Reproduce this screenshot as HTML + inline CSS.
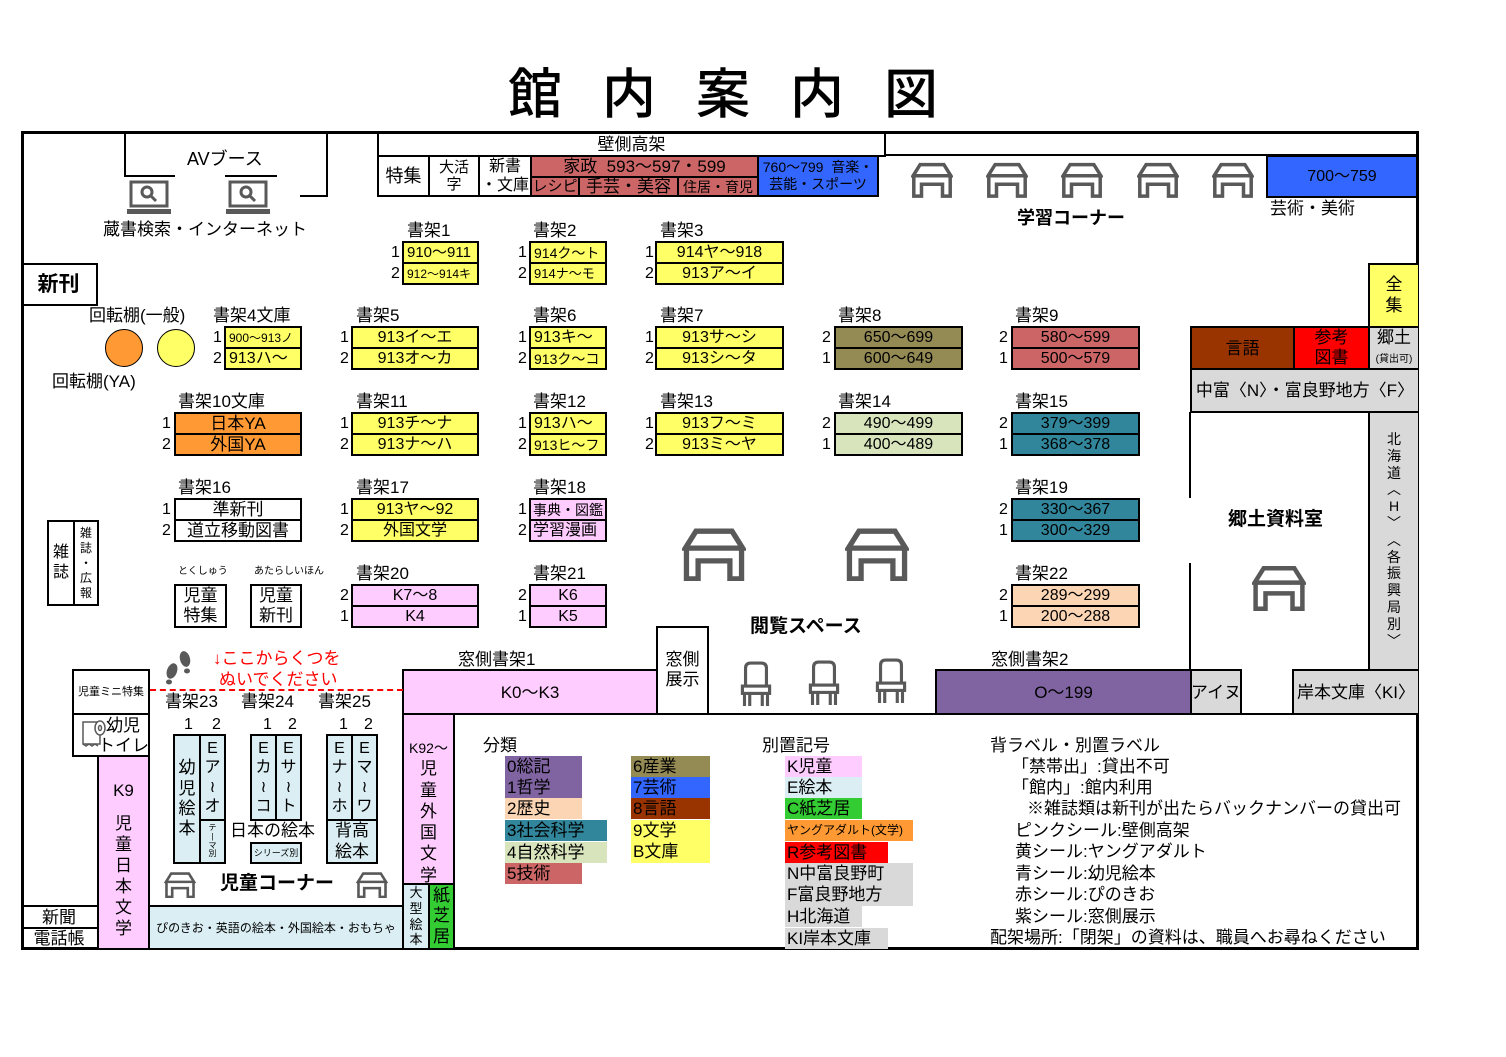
<!DOCTYPE html>
<html><head><meta charset="utf-8">
<style>
html,body{margin:0;padding:0;background:#fff;}
body{width:1506px;height:1057px;position:relative;overflow:hidden;font-family:"Liberation Sans","Noto Sans CJK JP",sans-serif;color:#000;}
.b{position:absolute;border:2px solid #000;box-sizing:border-box;display:flex;align-items:center;justify-content:center;white-space:nowrap;font-size:16px;line-height:1;overflow:hidden;}
.t{position:absolute;white-space:nowrap;font-size:17px;line-height:1;}
.n{position:absolute;font-size:16px;line-height:1;}
.l{position:absolute;background:#000;}
.y{background:#FFFF66}.o{background:#FF9933}.p{background:#FFCCFF}.ol{background:#948A54}
.r{background:#CC6666}.g{background:#D8E4BC}.tl{background:#31869B}.pe{background:#FCD5B4}
.pu{background:#8064A2}.br{background:#993300}.rd{background:#FF0000}.bl{background:#3366FF}
.gr{background:#D9D9D9}.lb{background:#DAEEF3}.gn{background:#33CC33}
.v{flex-direction:column;text-align:center;line-height:1.15;}
.bold{font-weight:bold;}
svg{position:absolute;overflow:visible;}
.leg{position:absolute;font-size:17px;line-height:21px;height:21px;white-space:nowrap;}
.wv{font-family:"DejaVu Sans",sans-serif;}
</style></head><body>
<svg width="0" height="0" style="position:absolute">
<defs>
<symbol id="tbl" viewBox="0 0 60 50"><g fill="none" stroke="#595959" stroke-width="5"><polygon points="13,3 47,3 57,19 3,19"/><path d="M4 19 V48 H15 V31 H45 V48 H56 V19"/></g></symbol>
<symbol id="chr" viewBox="0 0 32 44"><g fill="none" stroke="#595959" stroke-width="3"><path d="M6 24 V7 Q6 2 11 2 H21 Q26 2 26 7 V24"/><rect x="3" y="24" width="26" height="7"/><path d="M5 31 V43 M27 31 V43 M10 31 V43 M22 31 V43"/></g></symbol>
<symbol id="lap" viewBox="0 0 46 36"><rect x="5" y="2" width="36" height="24" fill="#fff" stroke="#595959" stroke-width="3"/><circle cx="21" cy="12" r="5" fill="none" stroke="#595959" stroke-width="3"/><line x1="25" y1="16" x2="30" y2="21" stroke="#595959" stroke-width="3"/><rect x="1" y="29" width="44" height="5" fill="#595959"/></symbol>
</defs></svg>

<div class="t" style="left:508px;top:68px;font-size:54px;letter-spacing:40px;font-weight:500;">館内案内図</div>

<div style="position:absolute;left:21px;top:131px;width:1398px;height:819px;border:3px solid #000;box-sizing:border-box;"></div>

<div class="l" style="left:124px;top:131px;width:2px;height:45px"></div>
<div class="l" style="left:124px;top:175px;width:51px;height:2px"></div>
<div class="l" style="left:225px;top:175px;width:52px;height:2px"></div>
<div class="l" style="left:326px;top:131px;width:2px;height:66px"></div>
<div class="l" style="left:300px;top:195px;width:28px;height:2px"></div>
<div class="t" style="left:187px;top:150px;font-size:18px;">AVブース</div>
<svg style="left:126px;top:180px" width="46" height="36"><use href="#lap"/></svg>
<svg style="left:225px;top:180px" width="46" height="36"><use href="#lap"/></svg>
<div class="t" style="left:103px;top:221px;font-size:17px;">蔵書検索・インターネット</div>

<div class="b" style="left:377px;top:131px;width:509px;height:26px;font-size:17px;">壁側高架</div>
<div class="l" style="left:884px;top:154px;width:535px;height:2px"></div>
<div class="b" style="left:377px;top:155px;width:53px;height:42px;font-size:18px;">特集</div>
<div class="b v" style="left:428px;top:155px;width:52px;height:42px;font-size:15px;">大活<br>字</div>
<div class="b v" style="left:478px;top:155px;width:54px;height:42px;font-size:16px;line-height:1.2">新書<br>・文庫</div>
<div class="b r" style="left:530px;top:155px;width:229px;height:23px;font-size:17px;">家政&nbsp;&nbsp;593～597・599</div>
<div class="b r" style="left:530px;top:176px;width:50px;height:21px;font-size:15px;">レシピ</div>
<div class="b r" style="left:578px;top:176px;width:101px;height:21px;font-size:17px;">手芸・美容</div>
<div class="b r" style="left:677px;top:176px;width:82px;height:21px;font-size:14px;">住居・育児</div>
<div class="b bl v" style="left:757px;top:155px;width:122px;height:42px;font-size:14px;line-height:1.25">760～799&nbsp;&nbsp;音楽・<br>芸能・スポーツ</div>

<svg style="left:911px;top:162px" width="42" height="36"><use href="#tbl"/></svg>
<svg style="left:986px;top:162px" width="42" height="36"><use href="#tbl"/></svg>
<svg style="left:1061px;top:162px" width="42" height="36"><use href="#tbl"/></svg>
<svg style="left:1137px;top:162px" width="42" height="36"><use href="#tbl"/></svg>
<svg style="left:1212px;top:162px" width="42" height="36"><use href="#tbl"/></svg>
<div class="t bold" style="left:1017px;top:209px;font-size:18px;">学習コーナー</div>
<div class="b bl" style="left:1266px;top:155px;width:152px;height:43px;font-size:16px;">700～759</div>
<div class="t" style="left:1270px;top:200px;">芸術・美術</div>

<div class="b bold" style="left:21px;top:263px;width:77px;height:43px;font-size:21px;border-left:none;">新刊</div>

<div class="t" style="left:89px;top:307px;">回転棚(一般)</div>
<div style="position:absolute;left:105px;top:329px;width:38px;height:38px;border-radius:50%;background:#FF9933;border:1.5px solid #000;box-sizing:border-box"></div>
<div style="position:absolute;left:157px;top:329px;width:38px;height:38px;border-radius:50%;background:#FFFF66;border:1.5px solid #000;box-sizing:border-box"></div>
<div class="t" style="left:52px;top:373px;">回転棚(YA)</div>

<div class="t" style="left:407px;top:222px;">書架1</div>
<div class="n" style="left:391px;top:245px;">1</div><div class="n" style="left:391px;top:266px;">2</div>
<div class="b y" style="left:402px;top:241px;width:77px;height:23px;justify-content:flex-start;padding-left:3px;font-size:15px;">910～911</div>
<div class="b y" style="left:402px;top:262px;width:77px;height:23px;justify-content:flex-start;padding-left:3px;font-size:12px;">912～914キ</div>

<div class="t" style="left:533px;top:222px;">書架2</div>
<div class="n" style="left:518px;top:245px;">1</div><div class="n" style="left:518px;top:266px;">2</div>
<div class="b y" style="left:529px;top:241px;width:78px;height:23px;justify-content:flex-start;padding-left:3px;font-size:14px;">914ク～ト</div>
<div class="b y" style="left:529px;top:262px;width:78px;height:23px;justify-content:flex-start;padding-left:3px;font-size:13px;">914ナ～モ</div>

<div class="t" style="left:660px;top:222px;">書架3</div>
<div class="n" style="left:645px;top:245px;">1</div><div class="n" style="left:645px;top:266px;">2</div>
<div class="b y" style="left:655px;top:241px;width:129px;height:23px;">914ヤ～918</div>
<div class="b y" style="left:655px;top:262px;width:129px;height:23px;">913ア～イ</div>

<div class="t" style="left:213px;top:307px;">書架4文庫</div>
<div class="n" style="left:213px;top:330px;">1</div><div class="n" style="left:213px;top:351px;">2</div>
<div class="b y" style="left:224px;top:326px;width:78px;height:23px;justify-content:flex-start;padding-left:3px;font-size:12px;">900～913ノ</div>
<div class="b y" style="left:224px;top:347px;width:78px;height:23px;justify-content:flex-start;padding-left:3px;">913ハ～</div>

<div class="t" style="left:356px;top:307px;">書架5</div>
<div class="n" style="left:340px;top:330px;">1</div><div class="n" style="left:340px;top:351px;">2</div>
<div class="b y" style="left:351px;top:326px;width:128px;height:23px;">913イ～エ</div>
<div class="b y" style="left:351px;top:347px;width:128px;height:23px;">913オ～カ</div>

<div class="t" style="left:533px;top:307px;">書架6</div>
<div class="n" style="left:518px;top:330px;">1</div><div class="n" style="left:518px;top:351px;">2</div>
<div class="b y" style="left:529px;top:326px;width:78px;height:23px;justify-content:flex-start;padding-left:3px;">913キ～</div>
<div class="b y" style="left:529px;top:347px;width:78px;height:23px;justify-content:flex-start;padding-left:3px;font-size:14px;">913ク～コ</div>

<div class="t" style="left:660px;top:307px;">書架7</div>
<div class="n" style="left:645px;top:330px;">1</div><div class="n" style="left:645px;top:351px;">2</div>
<div class="b y" style="left:655px;top:326px;width:129px;height:23px;">913サ～シ</div>
<div class="b y" style="left:655px;top:347px;width:129px;height:23px;">913シ～タ</div>

<div class="t" style="left:838px;top:307px;">書架8</div>
<div class="n" style="left:822px;top:330px;">2</div><div class="n" style="left:822px;top:351px;">1</div>
<div class="b ol" style="left:834px;top:326px;width:129px;height:23px;">650～699</div>
<div class="b ol" style="left:834px;top:347px;width:129px;height:23px;">600～649</div>

<div class="t" style="left:1015px;top:307px;">書架9</div>
<div class="n" style="left:999px;top:330px;">2</div><div class="n" style="left:999px;top:351px;">1</div>
<div class="b r" style="left:1011px;top:326px;width:129px;height:23px;">580～599</div>
<div class="b r" style="left:1011px;top:347px;width:129px;height:23px;">500～579</div>

<div class="t" style="left:178px;top:393px;">書架10文庫</div>
<div class="n" style="left:162px;top:416px;">1</div><div class="n" style="left:162px;top:437px;">2</div>
<div class="b o" style="left:174px;top:412px;width:128px;height:23px;font-size:17px;">日本YA</div>
<div class="b o" style="left:174px;top:433px;width:128px;height:23px;font-size:17px;">外国YA</div>

<div class="t" style="left:356px;top:393px;">書架11</div>
<div class="n" style="left:340px;top:416px;">1</div><div class="n" style="left:340px;top:437px;">2</div>
<div class="b y" style="left:351px;top:412px;width:128px;height:23px;">913チ～ナ</div>
<div class="b y" style="left:351px;top:433px;width:128px;height:23px;">913ナ～ハ</div>

<div class="t" style="left:533px;top:393px;">書架12</div>
<div class="n" style="left:518px;top:416px;">1</div><div class="n" style="left:518px;top:437px;">2</div>
<div class="b y" style="left:529px;top:412px;width:78px;height:23px;justify-content:flex-start;padding-left:3px;">913ハ～</div>
<div class="b y" style="left:529px;top:433px;width:78px;height:23px;justify-content:flex-start;padding-left:3px;font-size:14px;">913ヒ～フ</div>

<div class="t" style="left:660px;top:393px;">書架13</div>
<div class="n" style="left:645px;top:416px;">1</div><div class="n" style="left:645px;top:437px;">2</div>
<div class="b y" style="left:655px;top:412px;width:129px;height:23px;">913フ～ミ</div>
<div class="b y" style="left:655px;top:433px;width:129px;height:23px;">913ミ～ヤ</div>

<div class="t" style="left:838px;top:393px;">書架14</div>
<div class="n" style="left:822px;top:416px;">2</div><div class="n" style="left:822px;top:437px;">1</div>
<div class="b g" style="left:834px;top:412px;width:129px;height:23px;">490～499</div>
<div class="b g" style="left:834px;top:433px;width:129px;height:23px;">400～489</div>

<div class="t" style="left:1015px;top:393px;">書架15</div>
<div class="n" style="left:999px;top:416px;">2</div><div class="n" style="left:999px;top:437px;">1</div>
<div class="b tl" style="left:1011px;top:412px;width:129px;height:23px;">379～399</div>
<div class="b tl" style="left:1011px;top:433px;width:129px;height:23px;">368～378</div>

<div class="t" style="left:178px;top:479px;">書架16</div>
<div class="n" style="left:162px;top:502px;">1</div><div class="n" style="left:162px;top:523px;">2</div>
<div class="b" style="left:174px;top:498px;width:128px;height:23px;font-size:17px;">準新刊</div>
<div class="b" style="left:174px;top:519px;width:128px;height:23px;font-size:17px;">道立移動図書</div>

<div class="t" style="left:356px;top:479px;">書架17</div>
<div class="n" style="left:340px;top:502px;">1</div><div class="n" style="left:340px;top:523px;">2</div>
<div class="b y" style="left:351px;top:498px;width:128px;height:23px;">913ヤ～92</div>
<div class="b y" style="left:351px;top:519px;width:128px;height:23px;">外国文学</div>

<div class="t" style="left:533px;top:479px;">書架18</div>
<div class="n" style="left:518px;top:502px;">1</div><div class="n" style="left:518px;top:523px;">2</div>
<div class="b p" style="left:529px;top:498px;width:78px;height:23px;justify-content:flex-start;padding-left:2px;font-size:14px;">事典・図鑑</div>
<div class="b p" style="left:529px;top:519px;width:78px;height:23px;justify-content:flex-start;padding-left:2px;">学習漫画</div>

<div class="t" style="left:1015px;top:479px;">書架19</div>
<div class="n" style="left:999px;top:502px;">2</div><div class="n" style="left:999px;top:523px;">1</div>
<div class="b tl" style="left:1011px;top:498px;width:129px;height:23px;">330～367</div>
<div class="b tl" style="left:1011px;top:519px;width:129px;height:23px;">300～329</div>

<div class="t" style="left:178px;top:567px;font-size:10px;">とくしゅう</div>
<div class="b v" style="left:174px;top:584px;width:53px;height:44px;font-size:17px;line-height:1.2;">児童<br>特集</div>
<div class="t" style="left:254px;top:567px;font-size:10px;">あたらしいほん</div>
<div class="b v" style="left:250px;top:584px;width:52px;height:44px;font-size:17px;line-height:1.2;">児童<br>新刊</div>

<div class="t" style="left:356px;top:565px;">書架20</div>
<div class="n" style="left:340px;top:588px;">2</div><div class="n" style="left:340px;top:609px;">1</div>
<div class="b p" style="left:351px;top:584px;width:128px;height:23px;">K7～8</div>
<div class="b p" style="left:351px;top:605px;width:128px;height:23px;">K4</div>

<div class="t" style="left:533px;top:565px;">書架21</div>
<div class="n" style="left:518px;top:588px;">2</div><div class="n" style="left:518px;top:609px;">1</div>
<div class="b p" style="left:529px;top:584px;width:78px;height:23px;">K6</div>
<div class="b p" style="left:529px;top:605px;width:78px;height:23px;">K5</div>

<div class="t" style="left:1015px;top:565px;">書架22</div>
<div class="n" style="left:999px;top:588px;">2</div><div class="n" style="left:999px;top:609px;">1</div>
<div class="b pe" style="left:1011px;top:584px;width:129px;height:23px;">289～299</div>
<div class="b pe" style="left:1011px;top:605px;width:129px;height:23px;">200～288</div>

<div class="b v" style="left:47px;top:520px;width:28px;height:86px;font-size:16px;line-height:1.25;">雑<br>誌</div>
<div class="b v" style="left:73px;top:520px;width:26px;height:86px;font-size:12px;line-height:1.25;">雑<br>誌<br>・<br>広<br>報</div>

<svg style="left:682px;top:528px" width="64" height="53"><use href="#tbl"/></svg>
<svg style="left:845px;top:528px" width="64" height="53"><use href="#tbl"/></svg>
<div class="t bold" style="left:750px;top:617px;font-size:19px;">閲覧スペース</div>

<div class="b y v" style="left:1368px;top:263px;width:50px;height:65px;font-size:17px;line-height:1.2;border-right:none;">全<br>集</div>
<div class="b br" style="left:1190px;top:326px;width:105px;height:44px;font-size:17px;">言語</div>
<div class="b rd v" style="left:1293px;top:326px;width:77px;height:44px;font-size:17px;line-height:1.15;color:#000;">参考<br>図書</div>
<div class="b gr v" style="left:1368px;top:326px;width:50px;height:44px;font-size:17px;line-height:1.1;border-right:none;"><div>郷土<br><span style="font-size:10px">(貸出可)</span></div></div>
<div class="b gr" style="left:1190px;top:368px;width:228px;height:45px;font-size:17px;border-right:none;">中富〈N〉・富良野地方〈F〉</div>
<div class="b gr v" style="left:1368px;top:411px;width:50px;height:260px;font-size:14px;line-height:1.2;border-right:none;justify-content:flex-start;padding-top:18px;">北<br>海<br>道<br>︿<br>H<br>﹀<br>︿<br>各<br>振<br>興<br>局<br>別<br>﹀</div>
<div class="l" style="left:1189px;top:412px;width:2px;height:86px"></div>
<div class="l" style="left:1189px;top:563px;width:2px;height:108px"></div>
<div class="t bold" style="left:1228px;top:510px;font-size:19px;">郷土資料室</div>
<svg style="left:1252px;top:565px" width="54" height="46"><use href="#tbl"/></svg>

<div class="t" style="left:458px;top:651px;">窓側書架1</div>
<div class="b p" style="left:402px;top:669px;width:256px;height:46px;font-size:17px;">K0～K3</div>
<div class="b v" style="left:656px;top:626px;width:53px;height:89px;font-size:17px;line-height:1.2;justify-content:flex-start;padding-top:22px;">窓側<br>展示</div>
<svg style="left:739px;top:661px" width="34" height="46"><use href="#chr"/></svg>
<svg style="left:807px;top:660px" width="34" height="46"><use href="#chr"/></svg>
<svg style="left:874px;top:658px" width="34" height="46"><use href="#chr"/></svg>
<div class="t" style="left:991px;top:651px;">窓側書架2</div>
<div class="b pu" style="left:935px;top:669px;width:257px;height:46px;font-size:17px;">O～199</div>
<div class="b gr" style="left:1190px;top:669px;width:52px;height:46px;font-size:17px;">アイヌ</div>
<div class="b gr" style="left:1292px;top:669px;width:126px;height:46px;font-size:17px;border-right:none;">岸本文庫〈KI〉</div>
<div class="l" style="left:403px;top:713px;width:1016px;height:2px"></div>

<div class="b p v" style="left:402px;top:713px;width:53px;height:172px;font-size:17px;line-height:1.25;justify-content:flex-start;padding-top:22px;"><div><span style="font-size:14px">K92～</span><br>児<br>童<br>外<br>国<br>文<br>学</div></div>
<div class="b lb v" style="left:402px;top:883px;width:28px;height:67px;font-size:13px;line-height:1.2;">大<br>型<br>絵<br>本</div>
<div class="b gn v" style="left:428px;top:883px;width:27px;height:67px;font-size:17px;line-height:1.2;">紙<br>芝<br>居</div>

<div class="b" style="left:72px;top:669px;width:78px;height:46px;font-size:11px;">児童ミニ特集</div>
<div class="b" style="left:72px;top:713px;width:78px;height:44px;"></div>
<svg style="left:78px;top:716px" width="30" height="36" viewBox="0 0 30 36"><g fill="none" stroke="#595959" stroke-width="1.5"><path d="M5 6 H22 V28 H5 Z"/><ellipse cx="22" cy="12" rx="5" ry="7" fill="#fff"/><ellipse cx="22" cy="12" rx="1.5" ry="2.5"/><path d="M5 28 l3 2 l3 -2 l3 2 l3 -2 l3 2"/></g></svg>
<div class="t" style="left:106px;top:716px;font-size:17px;line-height:1.2;">幼児<br><span style="margin-left:-8px">トイレ</span></div>
<div class="b p v" style="left:97px;top:755px;width:53px;height:195px;font-size:17px;line-height:21px;justify-content:flex-start;padding-top:23px;"><div>K9<div style="height:12px"></div>児<br>童<br>日<br>本<br>文<br>学</div></div>
<div class="b" style="left:21px;top:905px;width:78px;height:24px;font-size:17px;border-left:none;">新聞</div>
<div class="b" style="left:21px;top:927px;width:78px;height:23px;font-size:17px;border-left:none;">電話帳</div>
<div class="b lb" style="left:148px;top:905px;width:256px;height:45px;font-size:12px;">ぴのきお・英語の絵本・外国絵本・おもちゃ</div>

<div style="position:absolute;left:150px;top:689px;width:253px;border-top:2px dashed #FF0000;"></div>
<svg style="left:160px;top:647px" width="38" height="38" viewBox="0 0 38 38"><g fill="#595959"><ellipse cx="12" cy="24" rx="5" ry="8" transform="rotate(20 12 24)"/><ellipse cx="9" cy="35" rx="3" ry="2.5"/><ellipse cx="25" cy="12" rx="5" ry="8" transform="rotate(-15 25 12)"/><ellipse cx="27" cy="24" rx="3" ry="2.5"/></g></svg>
<div class="t" style="left:213px;top:650px;color:#FF0000;font-size:17px;">↓ここからくつを</div>
<div class="t" style="left:219px;top:671px;color:#FF0000;font-size:17px;">ぬいでください</div>

<div class="t" style="left:165px;top:693px;">書架23</div>
<div class="t" style="left:241px;top:693px;">書架24</div>
<div class="t" style="left:318px;top:693px;">書架25</div>
<div class="n" style="left:184px;top:717px;">1</div><div class="n" style="left:212px;top:717px;">2</div>
<div class="n" style="left:263px;top:717px;">1</div><div class="n" style="left:288px;top:717px;">2</div>
<div class="n" style="left:339px;top:717px;">1</div><div class="n" style="left:364px;top:717px;">2</div>

<div class="b lb v" style="left:173px;top:734px;width:28px;height:130px;font-size:17px;line-height:1.2;">幼<br>児<br>絵<br>本</div>
<div class="b lb v" style="left:199px;top:734px;width:27px;height:87px;font-size:16px;line-height:1.2;"><div>E<br>ア<br><span class="wv">≀</span><br>オ</div></div>
<div class="b lb v" style="left:199px;top:819px;width:27px;height:45px;font-size:8px;line-height:1.1;">テ<br>|<br>マ<br>別</div>
<div class="b lb v" style="left:250px;top:734px;width:27px;height:87px;font-size:16px;line-height:1.2;"><div>E<br>カ<br><span class="wv">≀</span><br>コ</div></div>
<div class="b lb v" style="left:275px;top:734px;width:27px;height:87px;font-size:16px;line-height:1.2;"><div>E<br>サ<br><span class="wv">≀</span><br>ト</div></div>
<div class="t" style="left:230px;top:822px;font-size:17px;">日本の絵本</div>
<div class="b lb" style="left:250px;top:842px;width:52px;height:22px;font-size:9px;">シリーズ別</div>
<div class="b lb v" style="left:326px;top:734px;width:27px;height:87px;font-size:16px;line-height:1.2;"><div>E<br>ナ<br><span class="wv">≀</span><br>ホ</div></div>
<div class="b lb v" style="left:351px;top:734px;width:27px;height:87px;font-size:16px;line-height:1.2;"><div>E<br>マ<br><span class="wv">≀</span><br>ワ</div></div>
<div class="b lb v" style="left:326px;top:819px;width:52px;height:45px;font-size:17px;line-height:1.2;">背高<br>絵本</div>
<svg style="left:164px;top:872px" width="32" height="26"><use href="#tbl"/></svg>
<svg style="left:356px;top:872px" width="32" height="26"><use href="#tbl"/></svg>
<div class="t bold" style="left:220px;top:874px;font-size:19px;">児童コーナー</div>

<div class="t" style="left:483px;top:737px;">分類</div>
<div class="leg pu" style="left:505px;top:756px;width:75px;height:42px;line-height:21px;padding-left:2px;">0総記<br>1哲学</div>
<div class="leg pe" style="left:505px;top:798px;width:75px;padding-left:2px;">2歴史</div>
<div class="leg tl" style="left:505px;top:820px;width:100px;padding-left:2px;">3社会科学</div>
<div class="leg g" style="left:505px;top:842px;width:100px;padding-left:2px;">4自然科学</div>
<div class="leg r" style="left:505px;top:863px;width:75px;padding-left:2px;">5技術</div>
<div class="leg ol" style="left:631px;top:756px;width:77px;padding-left:2px;">6産業</div>
<div class="leg bl" style="left:631px;top:777px;width:77px;padding-left:2px;">7芸術</div>
<div class="leg br" style="left:631px;top:798px;width:77px;padding-left:2px;">8言語</div>
<div class="leg y" style="left:631px;top:820px;width:77px;height:43px;padding-left:2px;">9文学<br>B文庫</div>

<div class="t" style="left:762px;top:737px;">別置記号</div>
<div class="leg p" style="left:785px;top:756px;width:75px;padding-left:2px;">K児童</div>
<div class="leg lb" style="left:785px;top:777px;width:75px;padding-left:2px;">E絵本</div>
<div class="leg gn" style="left:785px;top:798px;width:75px;padding-left:2px;">C紙芝居</div>
<div class="leg o" style="left:785px;top:820px;width:126px;padding-left:2px;font-size:12px;">ヤングアダルト(文学)</div>
<div class="leg rd" style="left:785px;top:842px;width:101px;padding-left:2px;">R参考図書</div>
<div class="leg gr" style="left:785px;top:863px;width:126px;height:43px;padding-left:2px;">N中富良野町<br>F富良野地方</div>
<div class="leg gr" style="left:785px;top:906px;width:75px;padding-left:2px;">H北海道</div>
<div class="leg gr" style="left:785px;top:928px;width:101px;padding-left:2px;">KI岸本文庫</div>

<div class="leg" style="left:990px;top:735px;">背ラベル・別置ラベル</div>
<div class="leg" style="left:1012px;top:756px;">「禁帯出」:貸出不可</div>
<div class="leg" style="left:1012px;top:777px;">「館内」:館内利用</div>
<div class="leg" style="left:1027px;top:798px;">※雑誌類は新刊が出たらバックナンバーの貸出可</div>
<div class="leg" style="left:1015px;top:820px;">ピンクシール:壁側高架</div>
<div class="leg" style="left:1015px;top:841px;">黄シール:ヤングアダルト</div>
<div class="leg" style="left:1015px;top:863px;">青シール:幼児絵本</div>
<div class="leg" style="left:1015px;top:884px;">赤シール:ぴのきお</div>
<div class="leg" style="left:1015px;top:906px;">紫シール:窓側展示</div>
<div class="leg" style="left:990px;top:927px;">配架場所:「閉架」の資料は、職員へお尋ねください</div>

</body></html>
